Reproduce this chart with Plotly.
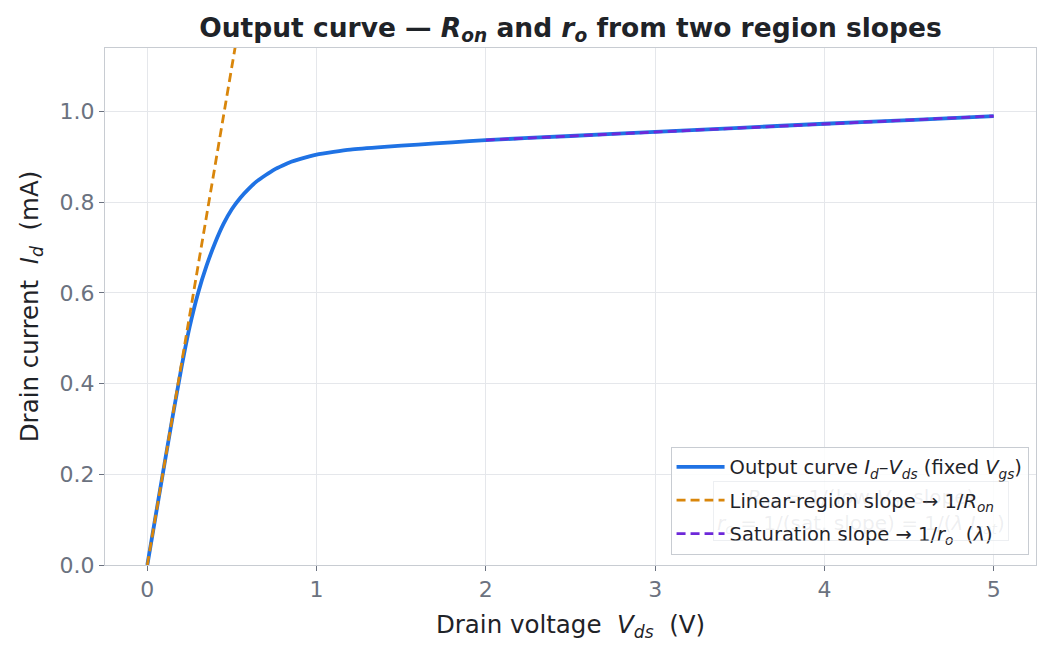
import plotly.graph_objects as go

# Output curve
vds = [0, 0.05, 0.10, 0.15, 0.20, 0.25, 0.30, 0.35, 0.40, 0.45, 0.50, 0.55, 0.60,
       0.65, 0.70, 0.75, 0.80, 0.85, 0.90, 1.0, 1.1, 1.2, 1.4, 1.6, 1.8, 2.0,
       2.5, 3.0, 3.5, 4.0, 4.5, 5.0]
id_ma = [0, 0.11, 0.22, 0.328, 0.432, 0.525, 0.60, 0.66, 0.71, 0.752, 0.785, 0.81, 0.83,
         0.847, 0.86, 0.872, 0.881, 0.889, 0.895, 0.905, 0.911, 0.916, 0.922, 0.927, 0.932, 0.937,
         0.946, 0.955, 0.964, 0.973, 0.981, 0.990]

# Linear-region slope line
lin_v = [0, 0.6]
lin_i = [0, 1.32]

# Saturation slope line
sat_v = [2.0, 5.0]
sat_i = [0.937, 0.990]

x_ticks = [0, 1, 2, 3, 4, 5]
y_ticks = [0.0, 0.2, 0.4, 0.6, 0.8, 1.0]

BLUE = "#1f72e4"
ORANGE = "#d9860b"
PURPLE = "#6d28d9"
FONT = "DejaVu Sans"

fig = go.Figure()
fig.add_trace(go.Scatter(
    x=vds, y=id_ma, mode="lines", line=dict(color=BLUE, width=3.8, shape="spline", smoothing=0.5),
    legendgroup="a",
    name="Output curve <i>I</i><sub><i>d</i></sub>–<i>V</i><sub><i>ds</i></sub> (fixed <i>V</i><sub><i>gs</i></sub>)"))
fig.add_trace(go.Scatter(
    x=lin_v, y=lin_i, mode="lines", line=dict(color=ORANGE, width=2.8, dash="9px,5px"),
    legendgroup="b",
    name="Linear-region slope → 1/<i>R</i><sub><i>on</i></sub>"))
fig.add_trace(go.Scatter(
    x=sat_v, y=sat_i, mode="lines", line=dict(color=PURPLE, width=2.8, dash="9px,5px"),
    legendgroup="c",
    name="Saturation slope → 1/<i>r</i><sub><i>o</i></sub>  (<i>λ</i>)"))

fig.add_annotation(
    x=0.812, y=0.105, xref="paper", yref="paper", xanchor="center", yanchor="middle",
    text="<i>R</i><sub><i>on</i></sub> = 1/(low-<i>V</i><sub><i>ds</i></sub> slope)<br>"
         "<i>r</i><sub><i>o</i></sub> = 1/(sat. slope) = 1/(<i>λ I</i><sub><i>sat</i></sub>)",
    showarrow=False, align="center",
    font=dict(family=FONT, size=20, color="rgba(150,156,166,0.16)"),
    bgcolor="rgba(255,255,255,0)", bordercolor="rgba(220,224,230,0.5)", borderwidth=1, borderpad=3,
)

fig.update_layout(
    width=1052, height=655,
    margin=dict(l=105, r=16, t=48, b=90),
    paper_bgcolor="white", plot_bgcolor="white",
    font=dict(family=FONT, color="#1f2328"),
    title=dict(
        text="<b>Output curve — <i>R</i><sub><i>on</i></sub> and <i>r</i><sub><i>o</i></sub> from two region slopes</b>",
        x=0.5, xref="paper", xanchor="center", y=0.958, yanchor="middle",
        font=dict(family=FONT, size=26.5, color="#1f2328")),
    showlegend=True,
    legend=dict(
        x=0.992, y=0.02, xanchor="right", yanchor="bottom",
        bgcolor="rgba(255,255,255,0.85)", bordercolor="#c8ccd2", borderwidth=1,
        tracegroupgap=5, itemwidth=48,
        font=dict(family=FONT, size=19.5, color="#1f2328")),
)
fig.update_xaxes(
    range=[-0.25, 5.25], tickvals=x_ticks, ticktext=[str(t) for t in x_ticks],
    showgrid=True, gridcolor="#e5e7eb", gridwidth=1, zeroline=False,
    showline=True, linecolor="#c8ccd2", linewidth=1, mirror=True,
    ticks="outside", ticklen=5, tickcolor="#6b7280",
    tickfont=dict(family=FONT, size=22, color="#6b7280"),
    title=dict(text="Drain voltage  <i>V</i><sub><i>ds</i></sub>  (V)",
               font=dict(family=FONT, size=24.5, color="#1f2328"), standoff=14),
)
fig.update_yaxes(
    range=[0, 1.14], tickvals=y_ticks, ticktext=[f"{t:.1f}" for t in y_ticks],
    showgrid=True, gridcolor="#e5e7eb", gridwidth=1, zeroline=False,
    showline=True, linecolor="#c8ccd2", linewidth=1, mirror=True,
    ticks="outside", ticklen=5, tickcolor="#6b7280",
    tickfont=dict(family=FONT, size=22, color="#6b7280"),
    title=dict(text="Drain current  <i>I</i><sub><i>d</i></sub>  (mA)",
               font=dict(family=FONT, size=24.5, color="#1f2328"), standoff=14),
)

fig.write_html("out.html")
